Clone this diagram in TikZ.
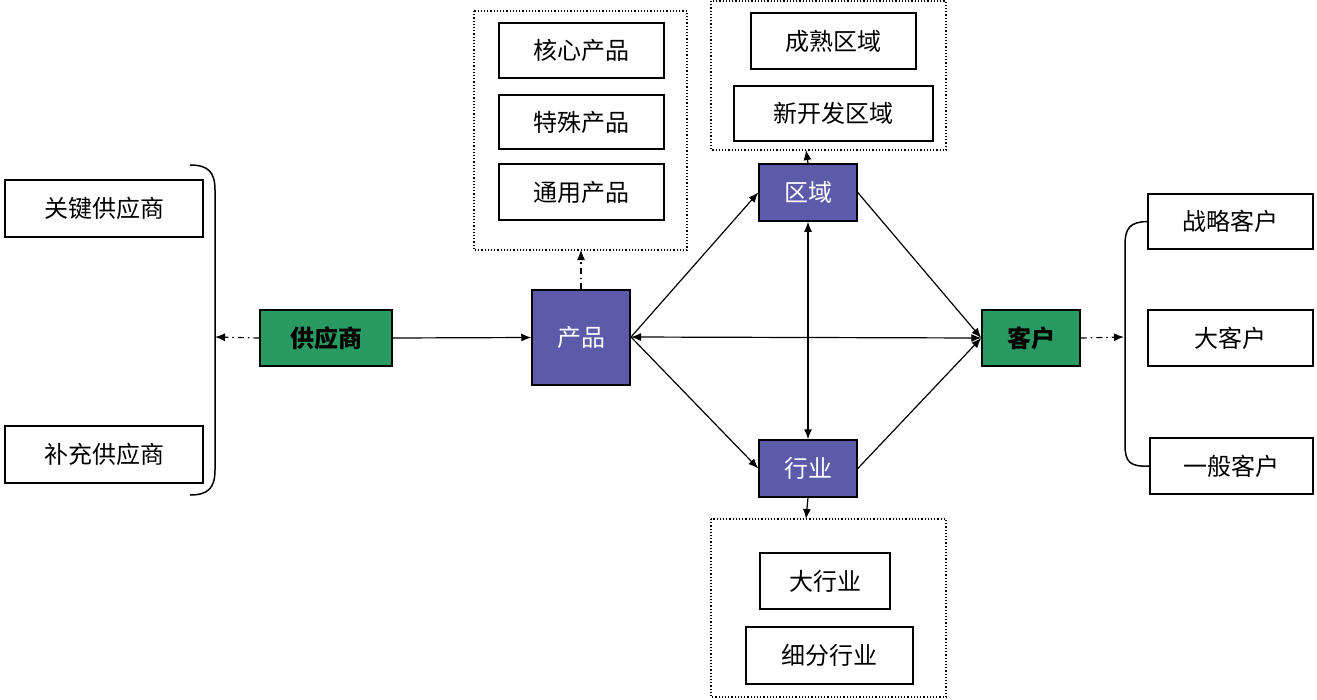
\documentclass[tikz,border=0pt]{standalone}
\usepackage{fontspec}
\setmainfont{Noto Sans CJK SC}
\usetikzlibrary{arrows.meta}
\definecolor{grn}{HTML}{2A9A63}
\definecolor{pur}{HTML}{5B5BAA}
\begin{document}
\begin{tikzpicture}[x=1pt,y=-1pt,
  wbox/.style={draw,line width=1.5pt,fill=white,inner sep=0pt,font=\fontsize{24}{24}\selectfont},
  gbox/.style={draw,line width=1.5pt,fill=grn,inner sep=0pt,font=\fontsize{24}{24}\selectfont\bfseries},
  pbox/.style={draw,line width=1.5pt,fill=pur,text=white,inner sep=0pt,font=\fontsize{24}{24}\selectfont},
  dbox/.style={draw,dotted,line width=1.2pt},
  arr/.style={line width=1.2pt,-{Latex[length=10pt,width=8pt]}},
  darr/.style={line width=1.2pt,{Latex[length=10pt,width=8pt]}-{Latex[length=10pt,width=8pt]}},
  dd/.style={line width=1.2pt,dash pattern=on 6pt off 4pt on 1.5pt off 4pt,-{Latex[length=10pt,width=8pt]}}]
\useasboundingbox (0,0) rectangle (1317,699);
\def\bx#1#2#3#4#5#6#7{\node[#2,minimum width=#5-#3,minimum height=#6-#4] (#1) at ({(#3+#5)/2},{(#4+#6)/2}) {#7};}
% dotted groups
\draw[dbox] (474,11) rectangle (687,250) coordinate (dp);
\coordinate (dpb) at (581,250);
\draw[dbox] (711,1) rectangle (946,150);
\coordinate (drb) at (806,150);
\draw[dbox] (711,519) rectangle (946,697);
\coordinate (dbt) at (806,519);
\bx{k1}{wbox}{5}{180}{203}{237}{关键供应商}
\bx{k2}{wbox}{5}{426}{203}{483}{补充供应商}
\bx{sup}{gbox}{260}{310}{392}{366}{供应商}
\bx{prod}{pbox}{532}{290}{630}{385}{产品}
\bx{p1}{wbox}{499}{23}{664}{78}{核心产品}
\bx{p2}{wbox}{499}{95}{664}{149}{特殊产品}
\bx{p3}{wbox}{499}{164}{664}{220}{通用产品}
\bx{reg}{pbox}{759}{164}{857}{221}{区域}
\bx{r1}{wbox}{751}{13}{916}{69}{成熟区域}
\bx{r2}{wbox}{734}{86}{933}{141}{新开发区域}
\bx{ind}{pbox}{759}{440}{857}{497}{行业}
\bx{i1}{wbox}{760}{553}{890}{609}{大行业}
\bx{i2}{wbox}{746}{627}{913}{684}{细分行业}
\bx{cus}{gbox}{982}{310}{1080}{366}{客户}
\bx{c1}{wbox}{1148}{194}{1313}{249}{战略客户}
\bx{c2}{wbox}{1148}{310}{1313}{366}{大客户}
\bx{c3}{wbox}{1150}{438}{1313}{494}{一般客户}
% braces
\draw[line width=1.5pt] (190,165) .. controls (208,165) and (215,172) .. (215,190) -- (215,470) .. controls (215,488) and (208,495) .. (190,495);
\coordinate (lb) at (215,337);
\draw[line width=1.5pt] (c1.west) .. controls (1130,222) and (1125,228) .. (1125,245) -- (1125,445) .. controls (1125,462) and (1130,467) .. (c3.west);
\coordinate (rb) at (1124,337);
% arrows
\draw[dd] (sup.west) -- (lb);
\draw[dd] (cus.east) -- (rb);
\draw[dd] (prod.north) -- (dpb);
\draw[arr] (reg.north) -- (drb);
\draw[arr] (ind.south) -- (dbt);
\draw[arr] (sup.east) -- (prod.west);
\coordinate (pr) at (631,337);
\draw[arr] (pr) -- (reg.west);
\draw[arr] (pr) -- (ind.west);
\draw[darr] (pr) -- (cus.west);
\draw[darr] (reg.south) -- (ind.north);
\draw[arr] (reg.east) -- (cus.west);
\draw[arr] (ind.east) -- (cus.west);
\end{tikzpicture}
\end{document}
